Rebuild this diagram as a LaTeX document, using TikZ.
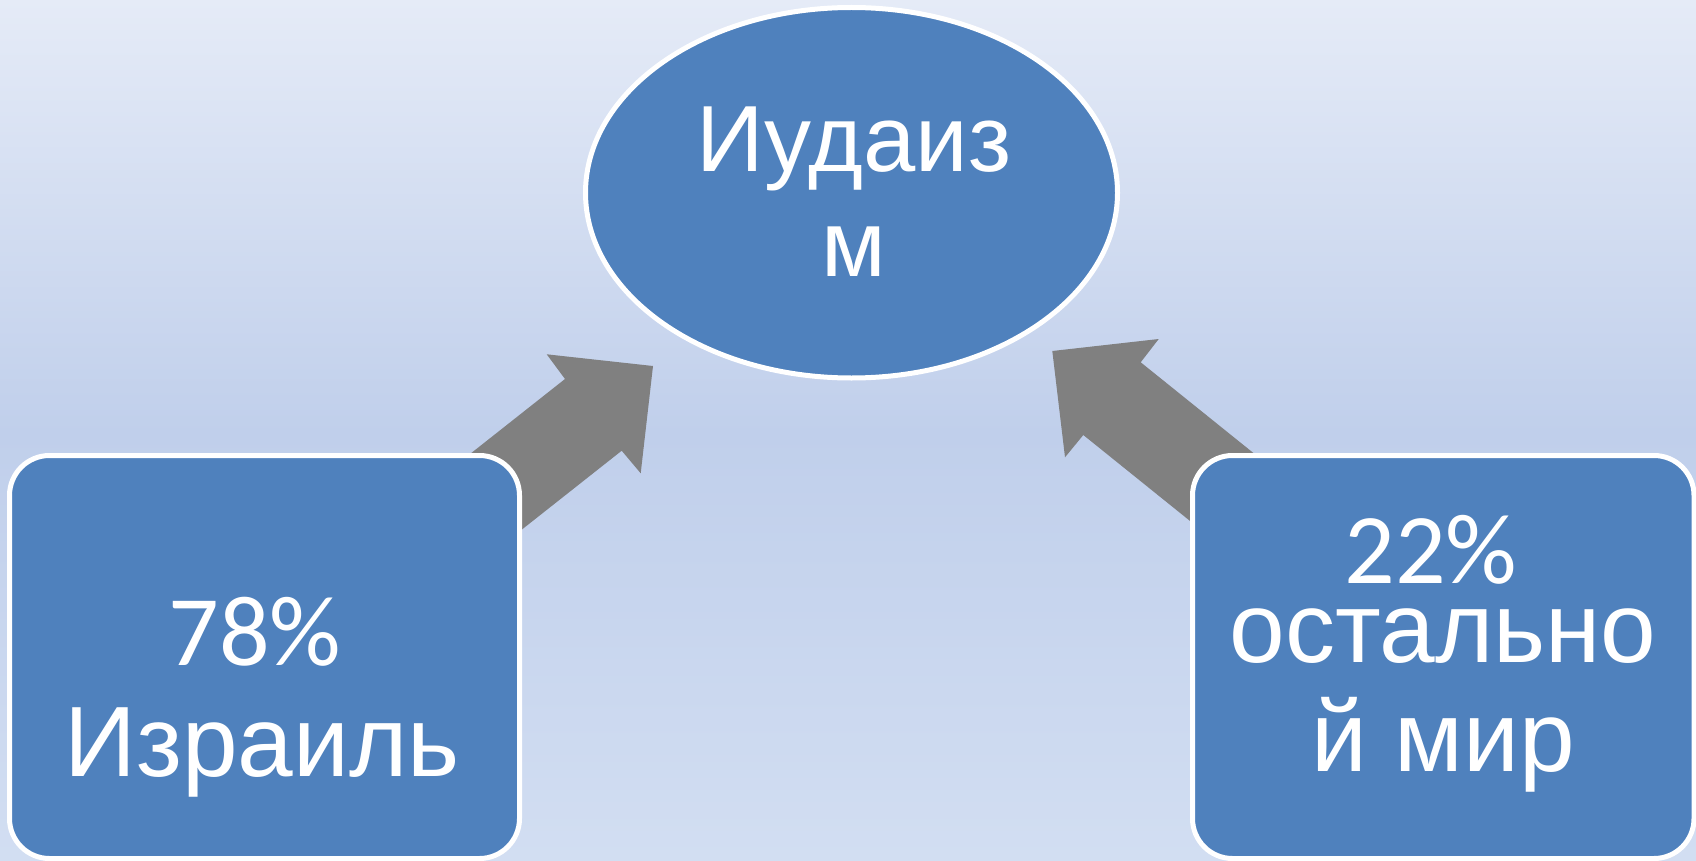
\documentclass[tikz,border=0pt]{standalone}
\usepackage{fontspec}
\setmainfont{Liberation Sans}
\newfontfamily\digitfont{Carlito}
\usetikzlibrary{shapes.geometric}
\definecolor{accent}{RGB}{79,129,189}
\definecolor{bgtop}{RGB}{229,235,247}
\definecolor{bgmid}{RGB}{192,207,235}
\definecolor{bgbot}{RGB}{210,222,242}
\definecolor{arrowgray}{RGB}{128,128,128}
\begin{document}
\begin{tikzpicture}[x=1pt,y=-1pt,
  blob/.style={draw=white, line width=5pt, fill=accent, inner sep=0pt, outer sep=0pt},
  card/.style={blob, rectangle, rounded corners=40pt},
  bigtxt/.style={anchor=base, text=white, inner sep=0pt, font=\fontsize{100}{110}\selectfont},
  eltxt/.style={anchor=base, text=white, inner sep=0pt, font=\fontsize{94}{104}\selectfont},
  numtxt/.style={anchor=base, text=white, inner sep=0pt, font=\digitfont\fontsize{100}{110}\selectfont},
  blockarrow/.style={fill=arrowgray}]
\useasboundingbox (0,0) rectangle (1696,861);
\shade[top color=bgtop, bottom color=bgmid] (0,0) rectangle (1696,433);
\shade[top color=bgmid, bottom color=bgbot] (0,433) rectangle (1696,861);

% block arrows (tails hidden under the cards)
\fill[blockarrow] (653,366) -- (546.7,354.3) -- (565,379) -- (408,503) -- (464.7,574.7) -- (621.7,450.7) -- (640.7,473.3) -- cycle;
\fill[blockarrow] (1052.3,351) -- (1158.7,339) -- (1140.7,362.3) -- (1296.5,487.7) -- (1239,560.4) -- (1083.3,435) -- (1065,457.3) -- cycle;

% central ellipse
\node[blob, ellipse, minimum width=532pt, minimum height=370.5pt] (judaism) at (851.5,192.75) {};
\node[eltxt] (j1) at (854,172) {Иудаиз};
\node[eltxt] (j2) at (854,276) {м};

% left card
\node[card, minimum width=510pt, minimum height=403pt] (israel) at (264.5,657) {};
\node[numtxt] (i1) at (255,665) {78\%};
\node[bigtxt] (i2) at (262,776) {Израиль};

% right card
\node[card, minimum width=501.5pt, minimum height=403pt] (world) at (1443.25,657) {};
\node[numtxt] (w1) at (1431,583) {22\%};
\node[bigtxt] (w2) at (1443,662) {остально};
\node[bigtxt] (w3) at (1443,771) {й мир};
\end{tikzpicture}
\end{document}
